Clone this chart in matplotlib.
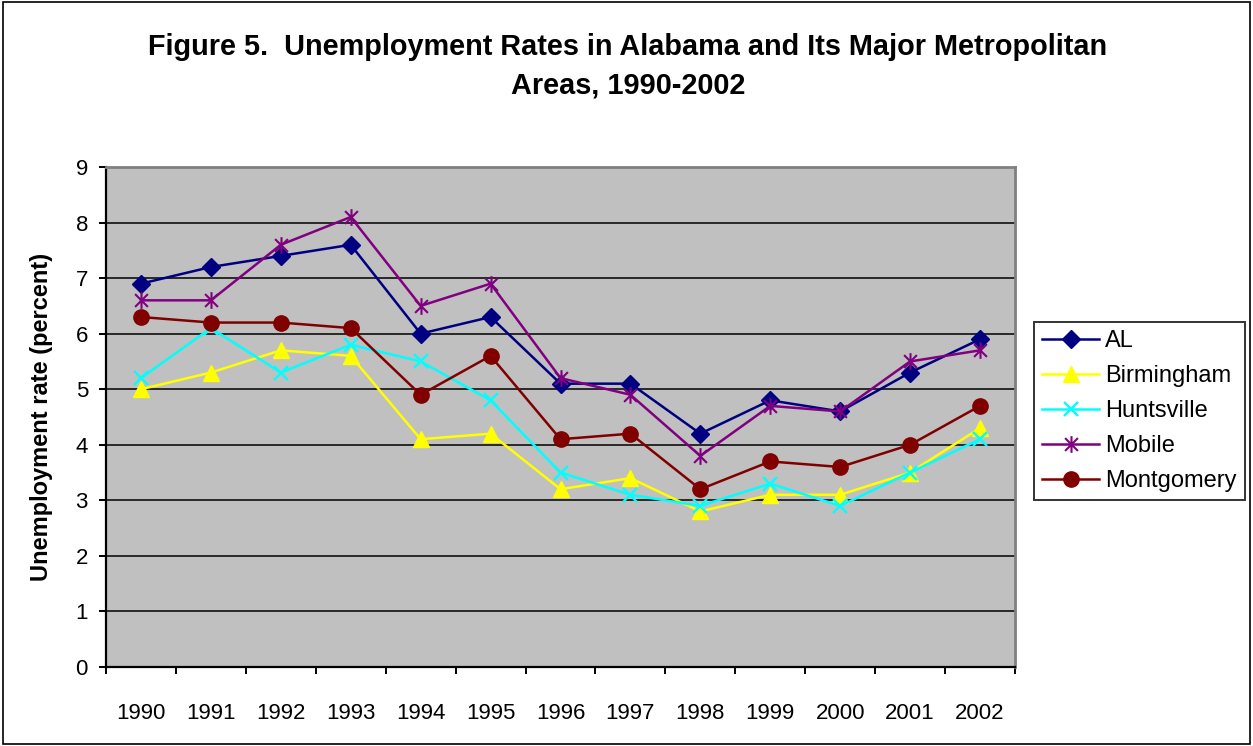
import matplotlib
matplotlib.use("Agg")
import matplotlib.pyplot as plt
from matplotlib.path import Path
from matplotlib.patches import Rectangle
import numpy as np

plt.rcParams['font.family'] = ['Liberation Sans', 'DejaVu Sans']

# data
years = ["1990", "1991", "1992", "1993", "1994", "1995", "1996",
         "1997", "1998", "1999", "2000", "2001", "2002"]
al = [6.9, 7.2, 7.4, 7.6, 6.0, 6.3, 5.1, 5.1, 4.2, 4.8, 4.6, 5.3, 5.9]
birmingham = [5.0, 5.3, 5.7, 5.6, 4.1, 4.2, 3.2, 3.4, 2.8, 3.1, 3.1, 3.5, 4.3]
huntsville = [5.2, 6.1, 5.3, 5.8, 5.5, 4.8, 3.5, 3.1, 2.9, 3.3, 2.9, 3.5, 4.1]
mobile = [6.6, 6.6, 7.6, 8.1, 6.5, 6.9, 5.2, 4.9, 3.8, 4.7, 4.6, 5.5, 5.7]
montgomery = [6.3, 6.2, 6.2, 6.1, 4.9, 5.6, 4.1, 4.2, 3.2, 3.7, 3.6, 4.0, 4.7]

# excel style star: an X with a vertical bar through it
star = Path([(-1, -1), (1, 1), (-1, 1), (1, -1), (0, -1.3), (0, 1.3)],
            [Path.MOVETO, Path.LINETO, Path.MOVETO, Path.LINETO,
             Path.MOVETO, Path.LINETO])

fig = plt.figure(figsize=(12.53, 7.46), dpi=100)
ax = fig.add_axes([106/1253, 1-667/746, 909/1253, 500/746])
ax.set_facecolor('#c0c0c0')

x = np.arange(len(years))
ax.plot(x, al, color='#000080', lw=1.8, marker='D', ms=9, label='AL')
ax.plot(x, birmingham, color='#ffff00', lw=1.8, marker='^', ms=12, label='Birmingham')
ax.plot(x, huntsville, color='#00ffff', lw=1.8, marker='x', ms=10, mew=1.7, label='Huntsville')
ax.plot(x, mobile, color='#800080', lw=1.8, marker=star, ms=12, mew=1.5,
        mfc='none', label='Mobile')
ax.plot(x, montgomery, color='#800000', lw=1.8, marker='o', ms=11, label='Montgomery')

ax.set_xlim(-0.5, len(years) - 0.5)
ax.set_ylim(0, 9)
ax.set_yticks(range(10))
ax.yaxis.grid(True, color='black', lw=1.1)
ax.set_axisbelow(True)

ax.set_xticks(np.arange(-0.5, len(years), 1.0))
ax.set_xticklabels([])
ax.set_xticks(x, minor=True)
ax.set_xticklabels(years, minor=True)
ax.tick_params(axis='x', which='major', direction='out', length=5, width=1.4)
ax.tick_params(axis='x', which='minor', length=0, pad=26, labelsize=16)
ax.tick_params(axis='y', direction='out', length=5, width=1.4, pad=8, labelsize=16)

for s in ['left', 'bottom']:
    ax.spines[s].set_color('black')
    ax.spines[s].set_linewidth(1.6)
for s in ['top', 'right']:
    ax.spines[s].set_color('#808080')
    ax.spines[s].set_linewidth(2)

ax.set_ylabel('Unemployment rate (percent)', fontsize=17, fontweight='bold')
ax.yaxis.set_label_coords(-0.058, 0.5)

fig.text(0.501, 0.911, 'Figure 5.  Unemployment Rates in Alabama and Its Major Metropolitan\nAreas, 1990-2002',
         ha='center', va='center', fontsize=20.8, fontweight='bold', linespacing=1.5)

leg = fig.legend(loc='upper left', bbox_to_anchor=(1034/1253, 1-322/746),
                 fontsize=17, frameon=True, fancybox=False, handlelength=2.4,
                 labelspacing=0.55, borderpad=0.35, handletextpad=0.25,
                 borderaxespad=0)
leg.get_frame().set_edgecolor('black')
leg.get_frame().set_linewidth(1.4)

# border around the whole chart
fig.patches.append(Rectangle((0.002, 0.003), 0.996, 0.994, transform=fig.transFigure,
                             fill=False, edgecolor='black', lw=1.2))

fig.savefig('out.png', dpi=100)
